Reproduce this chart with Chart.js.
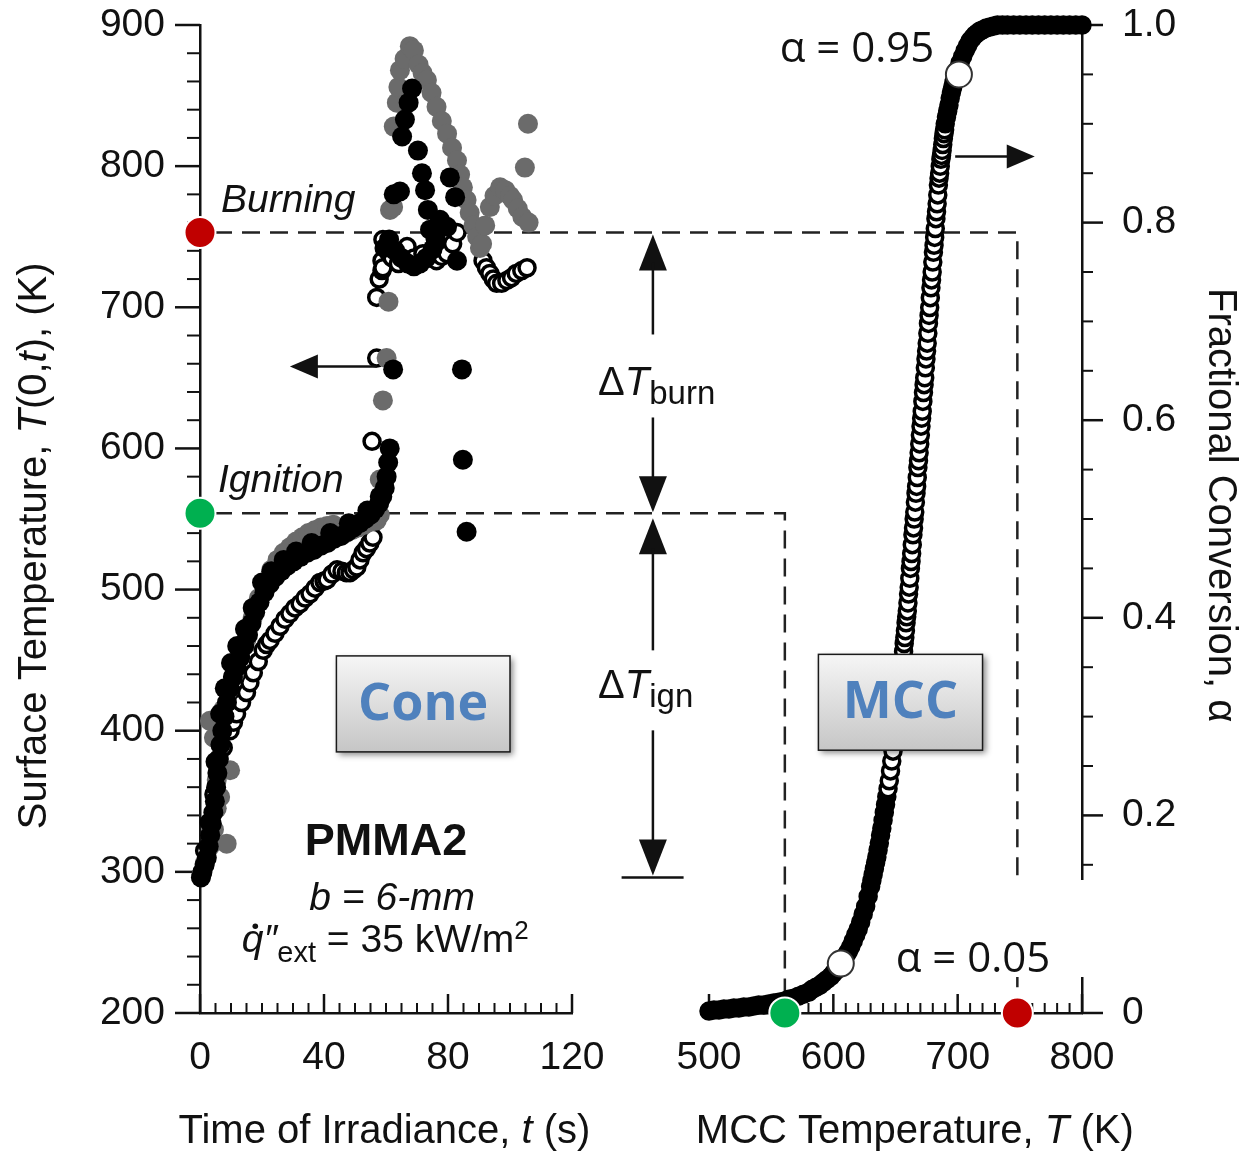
<!DOCTYPE html>
<html>
<head>
<meta charset="utf-8">
<script src="https://cdn.jsdelivr.net/npm/chart.js@4.4.0/dist/chart.umd.min.js"></script>
<style>
  html, body { margin: 0; padding: 0; background: #fff; }
  #wrap { position: relative; width: 1241px; height: 1152px; }
  #wrap canvas { position: absolute; left: 0; top: 0; }
</style>
</head>
<body>
<div id="wrap">
  <canvas id="coneChart" width="1241" height="1152"></canvas>
  <canvas id="mccChart" width="1241" height="1152"></canvas>
</div>
<script>
// --- DATOS: ensayo de cono (panel izquierdo) ---
const timeTicks = [0, 40, 80, 120];
const tempTicks = [200, 300, 400, 500, 600, 700, 800, 900];

// serie negra (círculos rellenos)
const blackTime = [0.3, 0.8, 1.5, 2.2, 2.8, 3.3, 3.8, 4.3, 4.8, 5.2, 5.6, 6.1, 6.6, 7.2, 7.9, 8.7, 9.6, 10.6, 11.8, 13.0,
  14.3, 15.5, 16.6, 17.8, 19.2, 20.8, 22.5, 24.3, 26.2, 28.2, 30.2, 32.3, 34.5, 36.7, 38.9, 41.1, 43.3, 45.5, 47.6, 49.6,
  51.5, 53.3, 55.0, 56.5, 57.8, 58.8, 59.6, 60.2, 60.7, 61.2, 62.3,
  5.0, 6.5, 8.0, 10.0, 12.0, 14.5, 17.0, 20.0, 23.0, 27.0, 31.0, 36.0, 42.0, 48.0, 54.0, 58.0,
  59.5, 61.0, 62.5, 64.5, 65.2, 66.1, 67.3, 68.4, 70.3, 71.6, 72.6, 73.5, 74.2, 77.4, 79.7, 80.6, 82.3, 82.9, 63.0, 65.0,
  67.0, 69.0, 71.0, 73.0, 75.0, 76.0, 84.5, 84.8, 86.0];
const blackTemp = [296, 300, 305, 310, 318, 326, 334, 342, 350, 360, 370, 380, 390, 400, 410, 420, 430, 438, 445, 452,
  460, 468, 476, 484, 491, 498, 504, 509, 513, 517, 520, 523, 526, 528, 531, 533, 536, 538, 541, 544,
  547, 550, 553, 557, 561, 566, 572, 580, 590, 600, 656,
  378, 412, 430, 448, 460, 472, 487, 505, 513, 521, 527, 533, 540, 547, 556, 566,
  742, 748, 780, 782, 821, 833, 845, 855, 811, 795, 783, 769, 755, 762, 757, 792, 778, 733, 740, 735,
  731, 729, 731, 735, 741, 748, 656, 592, 541];

// serie gris (círculos rellenos grises)
const grayTime = [0.5, 1.5, 3.2, 4.5, 5.4, 6.5, 8.6, 5.4, 9.7, 4.5, 3.2, 7.5, 9.0, 11.0, 13.0, 15.0, 17.0, 19.0, 21.0, 23.0,
  25.0, 27.0, 29.0, 31.0, 33.0, 35.0, 37.0, 39.0, 41.0, 43.0, 45.0, 47.0, 49.0, 51.0, 53.0, 55.0, 57.0, 58.0,
  58.0, 59.0, 60.2, 60.8, 61.3, 62.3, 62.5, 63.5, 64.0, 64.5, 66.0, 67.7, 69.0, 70.5, 71.8, 73.2, 74.7, 76.3, 78.0, 79.7,
  81.3, 82.9, 83.9, 84.8, 86.0, 87.0, 88.2, 89.4, 90.3, 91.0, 92.0, 93.5, 95.0, 96.8, 98.5, 100.0, 101.0, 102.5, 104.0, 106.0,
  105.8, 104.8];
const grayTemp = [298, 306, 318, 330, 345, 353, 320, 365, 372, 395, 407, 415, 428, 440, 452, 465, 480, 494, 505, 514,
  521, 526, 530, 534, 537, 540, 542, 544, 545, 546, 538, 540, 542, 544, 546, 548, 549, 553,
  578, 634, 664, 704, 769, 771, 828, 845, 856, 868, 876, 885, 882, 872, 866, 861, 852, 842, 832, 823,
  813, 804, 794, 785, 776, 767, 758, 750, 742, 745, 758, 771, 779, 785, 783, 779, 776, 770, 764, 760,
  830, 799];

// serie de círculos abiertos
const openTime = [1.5, 3.0, 4.5, 6.0, 7.5, 9.7, 10.8, 11.8, 13.4, 15.0, 16.1, 17.2, 18.8, 20.4, 21.5, 22.6, 24.2, 25.8, 27.4, 29.0,
  30.6, 32.3, 33.9, 35.5, 37.1, 38.7, 40.0, 41.0, 42.6, 44.2, 45.8, 47.2, 48.4, 49.5, 50.6, 51.6, 52.6, 53.7, 54.8, 55.8,
  55.5, 57.0, 57.0, 57.8, 58.7, 58.7, 59.0, 61.0, 59.0, 62.0, 64.0, 66.8, 69.0, 71.9, 74.0, 76.3, 78.0, 79.7, 81.5, 82.9,
  91.3, 92.4, 93.5, 94.6, 95.7, 97.3, 99.0, 100.5, 102.0, 103.8, 105.5];
const openTemp = [315, 335, 355, 372, 388, 400, 406, 412, 420, 427, 434, 441, 449, 457, 461, 464, 469, 474, 479, 483,
  487, 490, 494, 497, 501, 505, 506, 507, 511, 514, 513, 512, 512, 514, 516, 521, 526, 529, 533, 537,
  605, 664, 707, 720, 726, 733, 748, 738, 728, 735, 731, 743, 735, 738, 735, 733, 736, 738, 745, 753,
  733, 728, 724, 720, 717, 717, 719, 721, 724, 726, 728];

// temperaturas características (K)
const ignitionTemp = 554;
const burningTemp = 753;
const initialTemp = 296;

// --- DATOS: MCC (panel derecho) ---
const mccTicks = [500, 600, 700, 800];
const alphaTicks = [0, 0.2, 0.4, 0.6, 0.8, 1.0];

const mccTemp = [500, 504, 508, 512, 516, 520, 524, 528, 532, 536, 540, 544, 548, 552, 556, 560, 564, 568, 572, 576, 580,
  583, 586, 589, 592, 595, 598, 600, 602, 604, 606, 608, 610, 612, 614, 616, 618, 620, 622, 624, 626, 628, 630,
  631, 632, 633, 634, 635, 636, 637, 638, 639, 640, 641, 642, 643, 644, 645, 646, 647, 648, 649,
  650, 650.5, 651, 651.5, 652, 652.5, 653, 653.5, 654, 654.5, 655, 655.5, 656, 656.5, 657, 657.5, 658, 658.5, 659, 659.5,
  660, 660.5, 661, 661.5, 662, 662.5, 663, 663.5, 664, 664.5, 665, 665.5, 666, 666.5, 667, 667.5, 668, 668.5, 669, 669.5,
  670, 670.5, 671, 671.5, 672, 672.5, 673, 673.5, 674, 674.5, 675, 675.5, 676, 676.5, 677, 677.5, 678, 678.5, 679, 679.5,
  680, 680.5, 681, 681.5, 682, 682.5, 683, 683.5, 684, 684.5, 685, 685.5, 686, 686.5, 687, 687.5, 688, 688.5, 689, 689.5,
  690, 691, 692, 693, 694, 695, 696, 697, 698, 699, 700,
  702, 704, 706, 708, 710, 712, 714, 716, 718, 720, 723, 726, 729, 732, 736, 740,
  745, 750, 755, 760, 765, 770, 775, 780, 785, 790, 795, 800];
const mccAlpha = [0.002, 0.003, 0.003, 0.004, 0.004, 0.005, 0.005, 0.006, 0.006, 0.007, 0.008, 0.008, 0.009, 0.010, 0.011, 0.012, 0.014, 0.015, 0.017, 0.019, 0.021,
  0.024, 0.026, 0.028, 0.031, 0.034, 0.037, 0.040, 0.043, 0.046, 0.050, 0.054, 0.058, 0.062, 0.067, 0.073, 0.079, 0.085, 0.092, 0.100, 0.108, 0.118, 0.128,
  0.134, 0.140, 0.146, 0.152, 0.158, 0.165, 0.172, 0.180, 0.187, 0.195, 0.203, 0.211, 0.219, 0.227, 0.235, 0.245, 0.255, 0.265, 0.275,
  0.285, 0.290, 0.297, 0.304, 0.309, 0.316, 0.321, 0.326, 0.333, 0.340, 0.345, 0.352, 0.358, 0.366, 0.374, 0.380, 0.387, 0.395, 0.401, 0.407,
  0.415, 0.424, 0.431, 0.440, 0.450, 0.457, 0.465, 0.474, 0.484, 0.491, 0.500, 0.507, 0.517, 0.526, 0.533, 0.542, 0.552, 0.559, 0.567, 0.576,
  0.585, 0.594, 0.602, 0.609, 0.619, 0.628, 0.636, 0.643, 0.653, 0.662, 0.670, 0.678, 0.688, 0.698, 0.706, 0.714, 0.724, 0.734, 0.742, 0.750,
  0.760, 0.770, 0.777, 0.785, 0.794, 0.804, 0.811, 0.819, 0.828, 0.838, 0.845, 0.850, 0.857, 0.864, 0.868, 0.873, 0.879, 0.885, 0.890, 0.894,
  0.900, 0.907, 0.913, 0.919, 0.926, 0.932, 0.937, 0.942, 0.947, 0.951, 0.955,
  0.962, 0.968, 0.974, 0.979, 0.984, 0.987, 0.990, 0.992, 0.994, 0.995, 0.997, 0.998, 0.999, 1.0, 1.0, 1.0,
  1.0, 1.0, 1.0, 1.0, 1.0, 1.0, 1.0, 1.0, 1.0, 1.0, 1.0, 1.0];

// puntos α = 0.05 y α = 0.95 sobre la curva
const alphaMarkTemp = [606, 701];
const alphaMarkVal = [0.05, 0.95];
// ignición y combustión sobre el eje del MCC
const mccIgnitionTemp = 561;
const mccBurningTemp = 748;

// --- ESTILO ---
const FONT = "'Liberation Sans', Arial, Helvetica, sans-serif";
const BOX_FONT = "'Open Sans', 'Noto Sans', sans-serif";
const INK = '#111';
const GREEN = '#00b050';
const RED = '#c00000';

const toPts = (xs, ys) => xs.map((x, i) => ({ x: x, y: ys[i] }));

function line(ctx, x1, y1, x2, y2) {
    ctx.beginPath();
    ctx.moveTo(x1, y1);
    ctx.lineTo(x2, y2);
    ctx.stroke();
}

// punta de flecha rellena; (x, y) es la punta
function arrowHead(ctx, x, y, dir, len, half) {
    ctx.beginPath();
    ctx.moveTo(x, y);
    if (dir === 'up') { ctx.lineTo(x - half, y + len); ctx.lineTo(x + half, y + len); }
    if (dir === 'down') { ctx.lineTo(x - half, y - len); ctx.lineTo(x + half, y - len); }
    if (dir === 'left') { ctx.lineTo(x + len, y - half); ctx.lineTo(x + len, y + half); }
    if (dir === 'right') { ctx.lineTo(x - len, y - half); ctx.lineTo(x - len, y + half); }
    ctx.closePath();
    ctx.fill();
}

// texto con tramos de distinta fuente (cursivas, subíndices)
function drawRich(ctx, parts, x, y, align) {
    let w = 0;
    parts.forEach(p => { ctx.font = p.f; p.w = ctx.measureText(p.t).width; w += p.w; });
    let cx = align === 'center' ? x - w / 2 : x;
    parts.forEach(p => {
        ctx.font = p.f;
        ctx.fillText(p.t, cx, y + (p.dy || 0));
        p.x = cx;
        cx += p.w;
    });
    return parts;
}

function labelBox(ctx, x1, y1, x2, y2, text) {
    ctx.save();
    ctx.shadowColor = 'rgba(0,0,0,0.45)';
    ctx.shadowBlur = 6;
    ctx.shadowOffsetX = 3;
    ctx.shadowOffsetY = 3;
    const g = ctx.createLinearGradient(0, y1, 0, y2);
    g.addColorStop(0, '#f6f6f6');
    g.addColorStop(1, '#c6c6c6');
    ctx.fillStyle = g;
    ctx.fillRect(x1, y1, x2 - x1, y2 - y1);
    ctx.shadowColor = 'transparent';
    ctx.strokeStyle = '#1a1a1a';
    ctx.lineWidth = 1.5;
    ctx.strokeRect(x1, y1, x2 - x1, y2 - y1);
    ctx.fillStyle = '#4f81bd';
    ctx.font = 'bold 52px ' + BOX_FONT;
    ctx.textAlign = 'center';
    ctx.textBaseline = 'middle';
    ctx.fillText(text, (x1 + x2) / 2, (y1 + y2) / 2 + 1);
    ctx.restore();
}

const baseScale = {
    type: 'linear',
    grid: { display: false, drawTicks: false },
    border: { display: true, color: INK, width: 2.5 },
};
const tickFont = { family: FONT, size: 39 };

// el eje vertical no debe reservar hueco extra arriba/abajo
function fixVertical(width) {
    return s => { s.width = width; s.paddingTop = 0; s.paddingBottom = 0; };
}

// --- PANEL DERECHO: MCC ---
const mccDecor = {
    id: 'mccDecor',
    beforeDatasetsDraw(chart) {
        const ctx = chart.ctx, a = chart.chartArea;
        const xs = chart.scales.x, ys = chart.scales.y;
        ctx.save();
        ctx.strokeStyle = INK;
        // marcas del eje x (hacia dentro), cada 10 K
        for (let i = 0; i <= 30; i++) {
            const v = 500 + i * 10;
            const major = mccTicks.includes(v);
            const p = xs.getPixelForValue(v);
            ctx.lineWidth = major ? 2.5 : 2;
            line(ctx, p, a.bottom, p, a.bottom - (major ? 19 : 10));
        }
        // marcas del eje α (hacia fuera), cada 0.05
        for (let i = 0; i <= 20; i++) {
            const v = i * 0.05;
            const major = i % 4 === 0;
            const p = ys.getPixelForValue(v);
            ctx.lineWidth = major ? 2.5 : 2;
            line(ctx, a.right, p, a.right + (major ? 21 : 11), p);
        }
        ctx.restore();
    },
    afterDraw(chart) {
        const ctx = chart.ctx, a = chart.chartArea;
        const X = v => chart.scales.x.getPixelForValue(v);
        const Y = v => chart.scales.y.getPixelForValue(v);
        ctx.save();
        ctx.fillStyle = INK;
        ctx.strokeStyle = INK;
        ctx.textAlign = 'left';
        ctx.textBaseline = 'alphabetic';

        // títulos de ejes
        drawRich(ctx, [
            { t: 'MCC Temperature, ', f: '40px ' + FONT },
            { t: 'T', f: 'italic 40px ' + FONT },
            { t: ' (K)', f: '40px ' + FONT }
        ], X(665.5), a.bottom + 130, 'center');

        ctx.save();
        ctx.translate(1220, Y(0.514));
        ctx.rotate(Math.PI / 2);
        ctx.textBaseline = 'middle';
        drawRich(ctx, [{ t: 'Fractional Conversion, α', f: '40px ' + FONT }], 0, 0, 'center');
        ctx.restore();

        // flecha hacia el eje derecho
        ctx.lineWidth = 2.5;
        const ay = Y(0.867);
        line(ctx, X(698), ay, X(740), ay);
        arrowHead(ctx, X(762), ay, 'right', 28, 12);

        // recuadro blanco con α = 0.05
        ctx.fillStyle = '#fff';
        ctx.beginPath();
        ctx.moveTo(X(667.3), Y(0.1346));
        ctx.lineTo(X(810), Y(0.1346));
        ctx.lineTo(X(810), Y(0.0364));
        ctx.lineTo(X(633.5), Y(0.0364));
        ctx.lineTo(X(633.5), Y(0.097));
        ctx.lineTo(X(667.3), Y(0.097));
        ctx.closePath();
        ctx.fill();

        ctx.fillStyle = INK;
        ctx.font = '42px ' + BOX_FONT;
        ctx.textAlign = 'center';
        ctx.textBaseline = 'middle';
        ctx.fillText('α = 0.05', X(712.3), Y(0.0536));
        ctx.fillText('α = 0.95', X(619), Y(0.975));

        labelBox(ctx, X(588), Y(0.363), X(720), Y(0.266), 'MCC');
        ctx.restore();
    }
};

const mccChart = new Chart(document.getElementById('mccChart'), {
    type: 'scatter',
    data: {
        datasets: [
            {
                label: 'α = 0.05 / 0.95',
                data: toPts(alphaMarkTemp, alphaMarkVal),
                pointRadius: 13,
                pointBackgroundColor: '#fff',
                pointBorderColor: '#333',
                pointBorderWidth: 2,
                clip: false
            },
            {
                label: 'Ignición / combustión',
                data: toPts([mccIgnitionTemp, mccBurningTemp], [0, 0]),
                pointRadius: 15.5,
                pointBackgroundColor: [GREEN, RED],
                pointBorderColor: '#fff',
                pointBorderWidth: 2,
                clip: false
            },
            {
                label: 'MCC',
                data: toPts(mccTemp, mccAlpha),
                pointRadius: 8,
                pointBorderWidth: 3.5,
                pointBorderColor: '#000',
                // donde los puntos se amontonan la banda se ve negra
                pointBackgroundColor: c => {
                    const v = c.raw ? c.raw.y : 0;
                    return (v > 0.22 && v < 0.9) ? '#fff' : '#000';
                },
                clip: false
            }
        ]
    },
    options: {
        responsive: false,
        animation: false,
        events: [],
        layout: { padding: { left: 709, top: 25, right: 0, bottom: 0 } },
        plugins: { legend: { display: false }, tooltip: { enabled: false } },
        scales: {
            x: Object.assign({}, baseScale, {
                min: 500, max: 800,
                afterBuildTicks: s => { s.ticks = mccTicks.map(v => ({ value: v })); },
                afterFit: s => { s.height = 139; },
                ticks: { padding: 22, font: tickFont, color: INK, maxRotation: 0, autoSkip: false }
            }),
            y: Object.assign({}, baseScale, {
                position: 'right',
                min: 0, max: 1,
                afterBuildTicks: s => { s.ticks = alphaTicks.map(v => ({ value: v })); },
                afterFit: fixVertical(159),
                ticks: {
                    padding: 40, font: tickFont, color: INK, autoSkip: false,
                    callback: v => v === 0 ? '0' : Number(v).toFixed(1)
                }
            })
        }
    },
    plugins: [mccDecor]
});

// --- PANEL IZQUIERDO: cono ---
const coneDecor = {
    id: 'coneDecor',
    beforeDatasetsDraw(chart) {
        const ctx = chart.ctx, a = chart.chartArea;
        const xs = chart.scales.x, ys = chart.scales.y;
        const mx = v => mccChart.scales.x.getPixelForValue(v);
        const my = v => mccChart.scales.y.getPixelForValue(v);
        ctx.save();
        ctx.strokeStyle = INK;
        for (let i = 0; i <= 24; i++) {
            const v = i * 5;
            const major = timeTicks.includes(v);
            const p = xs.getPixelForValue(v);
            ctx.lineWidth = major ? 2.5 : 2;
            line(ctx, p, a.bottom, p, a.bottom - (major ? 19 : 10));
        }
        for (let i = 0; i <= 35; i++) {
            const v = 200 + i * 20;
            const major = tempTicks.includes(v);
            const p = ys.getPixelForValue(v);
            ctx.lineWidth = major ? 2.5 : 2;
            line(ctx, a.left - (major ? 25 : 13), p, a.left, p);
        }

        // líneas discontinuas de ignición y combustión hacia el panel MCC
        ctx.strokeStyle = '#222';
        ctx.lineWidth = 2.5;
        ctx.setLineDash([18, 10]);
        const yi = ys.getPixelForValue(ignitionTemp);
        const yb = ys.getPixelForValue(burningTemp);
        ctx.beginPath();
        ctx.moveTo(a.left + 14, yi);
        ctx.lineTo(mx(mccIgnitionTemp), yi);
        ctx.lineTo(mx(mccIgnitionTemp), my(0));
        ctx.stroke();
        ctx.beginPath();
        ctx.moveTo(a.left + 14, yb);
        ctx.lineTo(mx(mccBurningTemp), yb);
        ctx.lineTo(mx(mccBurningTemp), my(0));
        ctx.stroke();
        ctx.restore();
    },
    afterDraw(chart) {
        const ctx = chart.ctx, a = chart.chartArea;
        const X = v => chart.scales.x.getPixelForValue(v);
        const Y = v => chart.scales.y.getPixelForValue(v);
        ctx.save();
        ctx.fillStyle = INK;
        ctx.strokeStyle = INK;
        ctx.textAlign = 'left';
        ctx.textBaseline = 'alphabetic';

        // títulos de ejes
        drawRich(ctx, [
            { t: 'Time of Irradiance, ', f: '40px ' + FONT },
            { t: 't', f: 'italic 40px ' + FONT },
            { t: ' (s)', f: '40px ' + FONT }
        ], X(59.5), a.bottom + 130, 'center');

        ctx.save();
        ctx.translate(35, Y(531));
        ctx.rotate(-Math.PI / 2);
        ctx.textBaseline = 'middle';
        drawRich(ctx, [
            { t: 'Surface Temperature, ', f: '40px ' + FONT },
            { t: 'T', f: 'italic 40px ' + FONT },
            { t: '(0,', f: '40px ' + FONT },
            { t: 't', f: 'italic 40px ' + FONT },
            { t: '), (K)', f: '40px ' + FONT }
        ], 0, 0, 'center');
        ctx.restore();

        const yi = Y(ignitionTemp), yb = Y(burningTemp), y0 = Y(initialTemp);
        ctx.font = 'italic 39px ' + FONT;
        ctx.fillText('Burning', X(6.8), yb - 20);
        ctx.fillText('Ignition', X(5.8), yi - 21);

        // bloque PMMA2
        drawRich(ctx, [{ t: 'PMMA2', f: 'bold 45px ' + FONT }], X(60), Y(312), 'center');
        drawRich(ctx, [{ t: 'b = 6-mm', f: 'italic 39px ' + FONT }], X(62), Y(273), 'center');
        const q = drawRich(ctx, [
            { t: 'q', f: 'italic 39px ' + FONT },
            { t: '″', f: 'italic 39px ' + FONT },
            { t: 'ext', f: '29px ' + FONT, dy: 10 },
            { t: ' = 35 kW/m', f: '39px ' + FONT },
            { t: '2', f: '26px ' + FONT, dy: -13 }
        ], X(13.5), Y(243), 'left');
        ctx.beginPath();
        ctx.arc(q[0].x + q[0].w * 0.62, Y(243) - 26, 2.8, 0, Math.PI * 2);
        ctx.fill();

        // flecha hacia el eje izquierdo
        ctx.lineWidth = 2.5;
        const ly = Y(658);
        line(ctx, X(57), ly, X(37), ly);
        arrowHead(ctx, X(29), ly, 'left', 28, 12);

        // flechas ΔT
        const ax = X(146.1);
        arrowHead(ctx, ax, yb + 2, 'up', 36, 14);
        line(ctx, ax, yb + 30, ax, yb + 102);
        line(ctx, ax, yb + 185, ax, yi - 32);
        arrowHead(ctx, ax, yi - 1, 'down', 36, 14);

        arrowHead(ctx, ax, yi + 5, 'up', 36, 14);
        line(ctx, ax, yi + 35, ax, yi + 137);
        line(ctx, ax, yi + 217, ax, y0 - 34);
        arrowHead(ctx, ax, y0 - 2, 'down', 36, 14);
        line(ctx, X(136), y0, X(156), y0);

        drawRich(ctx, [
            { t: 'Δ', f: '40px ' + FONT },
            { t: 'T', f: 'italic 40px ' + FONT },
            { t: 'burn', f: '33px ' + FONT, dy: 9 }
        ], X(128.4), yb + 163, 'left');
        drawRich(ctx, [
            { t: 'Δ', f: '40px ' + FONT },
            { t: 'T', f: 'italic 40px ' + FONT },
            { t: 'ign', f: '33px ' + FONT, dy: 9 }
        ], X(128.4), yi + 185, 'left');

        labelBox(ctx, X(44), Y(453), X(100), Y(385), 'Cone');
        ctx.restore();
    }
};

const coneChart = new Chart(document.getElementById('coneChart'), {
    type: 'scatter',
    data: {
        datasets: [
            {
                label: 'Ignición / combustión',
                data: toPts([0, 0], [ignitionTemp, burningTemp]),
                pointRadius: 15.5,
                pointBackgroundColor: [GREEN, RED],
                pointBorderColor: '#fff',
                pointBorderWidth: 2,
                clip: false
            },
            {
                label: 'Negros',
                data: toPts(blackTime, blackTemp),
                pointRadius: 10,
                pointBackgroundColor: '#000',
                pointBorderWidth: 0,
                clip: false
            },
            {
                label: 'Grises',
                data: toPts(grayTime, grayTemp),
                pointRadius: 10,
                pointBackgroundColor: '#6b6b6b',
                pointBorderWidth: 0,
                clip: false
            },
            {
                label: 'Abiertos',
                data: toPts(openTime, openTemp),
                pointRadius: 8,
                pointBackgroundColor: '#fff',
                pointBorderColor: '#000',
                pointBorderWidth: 3.5,
                clip: false
            }
        ]
    },
    options: {
        responsive: false,
        animation: false,
        events: [],
        layout: { padding: { left: 0, top: 25, right: 669, bottom: 0 } },
        plugins: { legend: { display: false }, tooltip: { enabled: false } },
        scales: {
            x: Object.assign({}, baseScale, {
                min: 0, max: 120,
                afterBuildTicks: s => { s.ticks = timeTicks.map(v => ({ value: v })); },
                afterFit: s => { s.height = 139; },
                ticks: { padding: 22, font: tickFont, color: INK, maxRotation: 0, autoSkip: false }
            }),
            y: Object.assign({}, baseScale, {
                min: 200, max: 900,
                afterBuildTicks: s => { s.ticks = tempTicks.map(v => ({ value: v })); },
                afterFit: fixVertical(200),
                ticks: { padding: 35, font: tickFont, color: INK, autoSkip: false }
            })
        }
    },
    plugins: [coneDecor]
});
</script>
</body>
</html>
